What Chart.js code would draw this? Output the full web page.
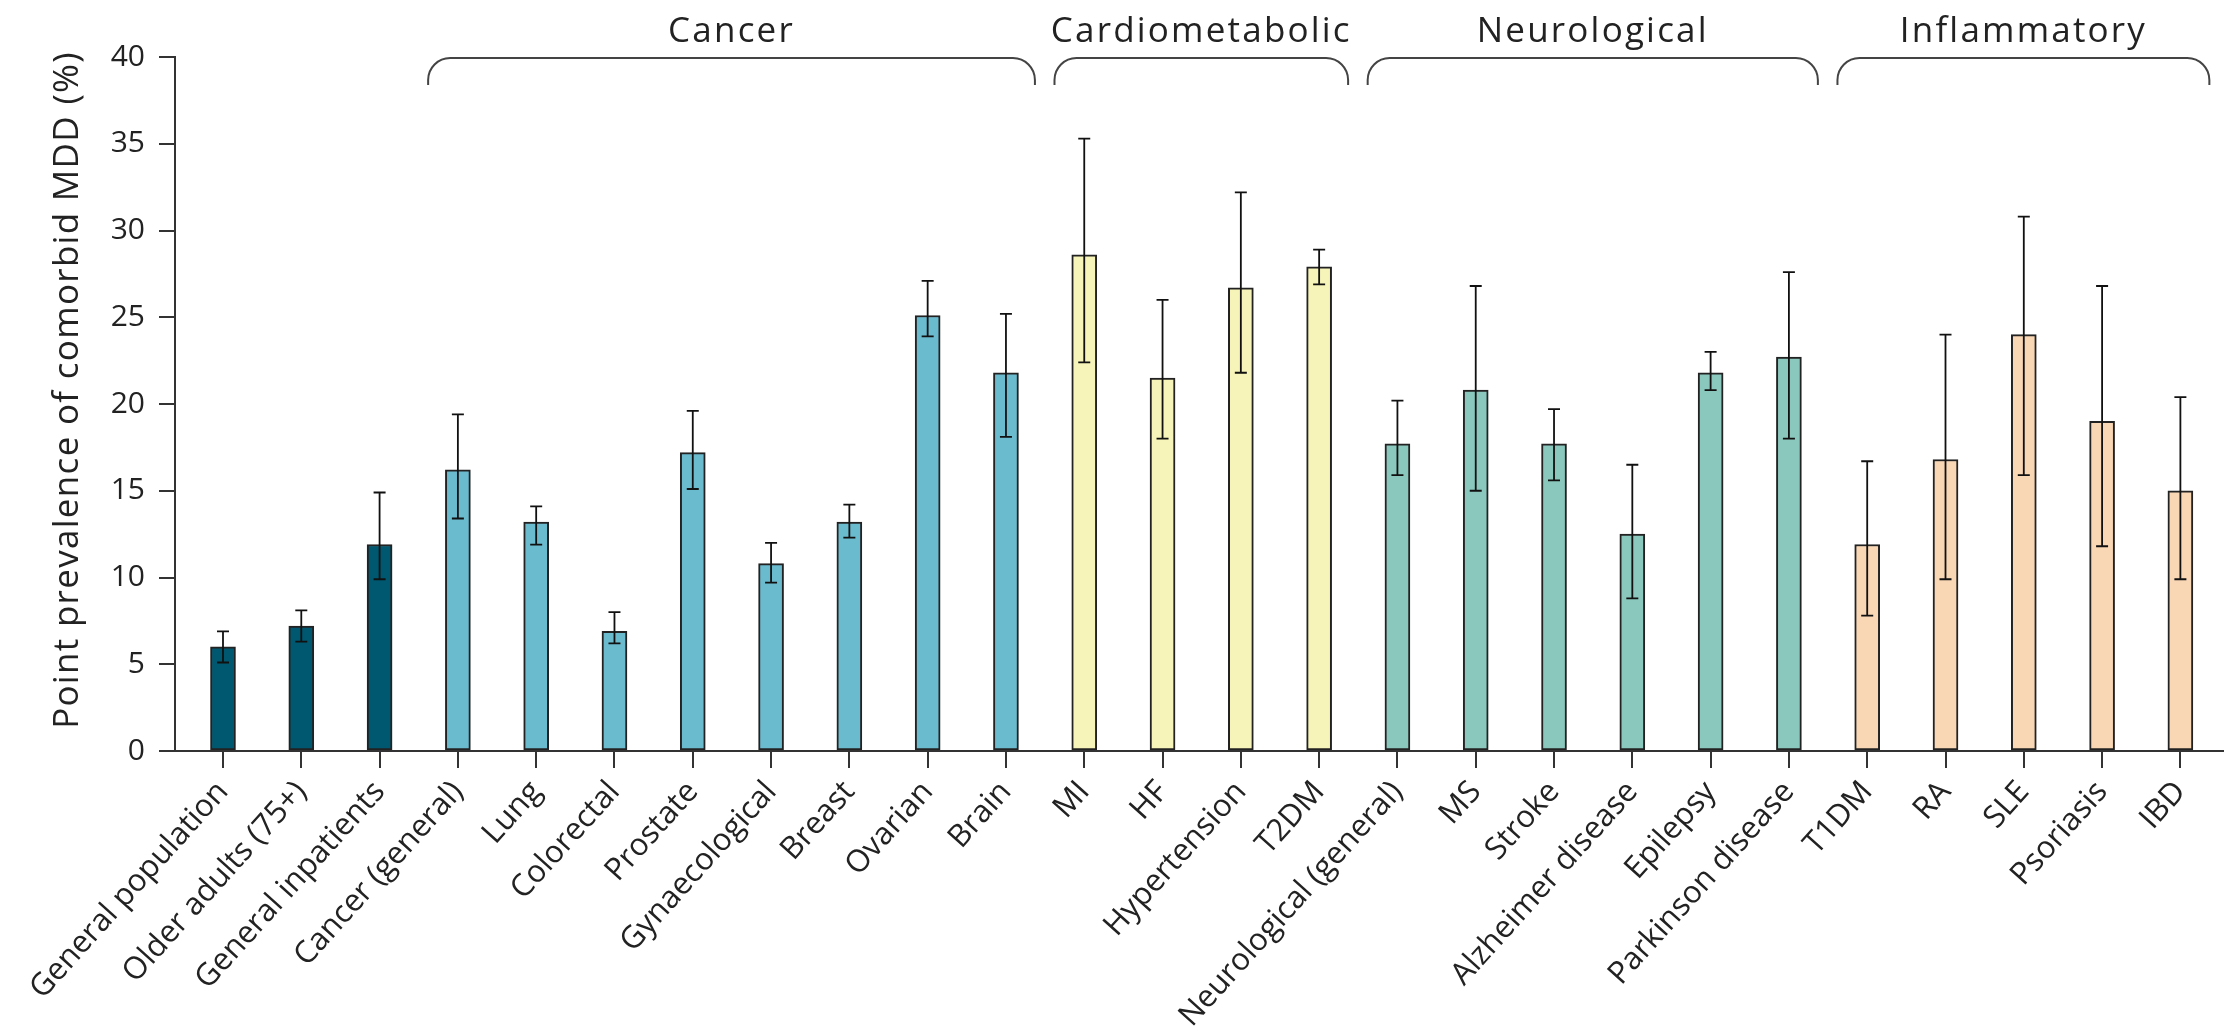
<!DOCTYPE html>
<html>
<head>
<meta charset="utf-8">
<title>Comorbid MDD prevalence</title>
<script src="https://cdn.jsdelivr.net/npm/chart.js@4.4.1/dist/chart.umd.min.js"></script>
<style>
body { margin: 0; background: #fff; }
canvas { display: block; }
</style>
</head>
<body>
<canvas id="barcanvas" width="2224" height="1035"></canvas>
<script>
var categories = [
    'General population', 'Older adults (75+)', 'General inpatients',
    'Cancer (general)', 'Lung', 'Colorectal', 'Prostate', 'Gynaecological', 'Breast', 'Ovarian', 'Brain',
    'MI', 'HF', 'Hypertension', 'T2DM',
    'Neurological (general)', 'MS', 'Stroke', 'Alzheimer disease', 'Epilepsy', 'Parkinson disease',
    'T1DM', 'RA', 'SLE', 'Psoriasis', 'IBD'
];
var prevalence = [6.0, 7.2, 11.9, 16.2, 13.2, 6.9, 17.2, 10.8, 13.2, 25.1, 21.8, 28.6, 21.5, 26.7, 27.9, 17.7, 20.8, 17.7, 12.5, 21.8, 22.7, 11.9, 16.8, 24.0, 19.0, 15.0];
var errLow = [5.1, 6.3, 9.9, 13.4, 11.9, 6.2, 15.1, 9.7, 12.3, 23.9, 18.1, 22.4, 18.0, 21.8, 26.9, 15.9, 15.0, 15.6, 8.8, 20.8, 18.0, 7.8, 9.9, 15.9, 11.8, 9.9];
var errHigh = [6.9, 8.1, 14.9, 19.4, 14.1, 8.0, 19.6, 12.0, 14.2, 27.1, 25.2, 35.3, 26.0, 32.2, 28.9, 20.2, 26.8, 19.7, 16.5, 23.0, 27.6, 16.7, 24.0, 30.8, 26.8, 20.4];
var yTicks = [0, 5, 10, 15, 20, 25, 30, 35, 40];
var yTitle = 'Point prevalence of comorbid MDD (%)';

// group name, first and last category index
var groupNames = ['Cancer', 'Cardiometabolic', 'Neurological', 'Inflammatory'];
var groupFirst = [3, 11, 15, 21];
var groupLast = [10, 14, 20, 25];
var groupColours = ['#6bbbcf', '#f6f4b8', '#8ac8bd', '#f9d7b5'];
var baseColour = '#005870';

var barColours = categories.map((c, i) => {
    for (var g = 0; g < groupFirst.length; g++) {
        if (i >= groupFirst[g] && i <= groupLast[g]) return groupColours[g];
    }
    return baseColour;
});

var inkColour = '#222';

var errorBarPlugin = {
    id: 'errorBars',
    afterDatasetsDraw(chart) {
        var ctx = chart.ctx;
        var y = chart.scales.y;
        var meta = chart.getDatasetMeta(0);
        ctx.save();
        ctx.strokeStyle = '#111';
        ctx.lineWidth = 1.8;
        meta.data.forEach((bar, i) => {
            var top = y.getPixelForValue(errHigh[i]);
            var bot = y.getPixelForValue(errLow[i]);
            ctx.beginPath();
            ctx.moveTo(bar.x, top);
            ctx.lineTo(bar.x, bot);
            ctx.moveTo(bar.x - 6, top);
            ctx.lineTo(bar.x + 6, top);
            ctx.moveTo(bar.x - 6, bot);
            ctx.lineTo(bar.x + 6, bot);
            ctx.stroke();
        });
        ctx.restore();
    }
};

var bracketPlugin = {
    id: 'groupBrackets',
    afterDraw(chart) {
        var ctx = chart.ctx;
        var x = chart.scales.x;
        var area = chart.chartArea;
        var step = x.getPixelForValue(1) - x.getPixelForValue(0);
        var top = area.top + 1;
        var r = 22;
        ctx.save();
        // baseline, running past the y axis like the original
        ctx.strokeStyle = '#333';
        ctx.lineWidth = 2;
        ctx.beginPath();
        ctx.moveTo(area.left - 16, area.bottom);
        ctx.lineTo(area.right, area.bottom);
        ctx.stroke();

        ctx.strokeStyle = '#444';
        ctx.fillStyle = inkColour;
        ctx.font = "35px 'Open Sans', sans-serif";
        ctx.letterSpacing = '2.2px';
        ctx.textAlign = 'center';
        ctx.textBaseline = 'middle';
        for (var g = 0; g < groupNames.length; g++) {
            var x0 = x.getPixelForValue(groupFirst[g]) - 0.38 * step;
            var x1 = x.getPixelForValue(groupLast[g]) + 0.37 * step;
            ctx.beginPath();
            ctx.moveTo(x0, top + 27);
            ctx.arcTo(x0, top, x0 + r, top, r);
            ctx.lineTo(x1 - r, top);
            ctx.arcTo(x1, top, x1, top + r, r);
            ctx.lineTo(x1, top + 27);
            ctx.stroke();
            ctx.fillText(groupNames[g], (x0 + x1) / 2, top - 26);
        }

        // y axis title
        ctx.font = "35px 'Open Sans', sans-serif";
        ctx.letterSpacing = '1.3px';
        ctx.translate(68, 390);
        ctx.rotate(-Math.PI / 2);
        ctx.fillText(yTitle, 0, 0);
        ctx.restore();
    }
};

Chart.defaults.font.family = "'Open Sans', sans-serif";
Chart.defaults.color = inkColour;

var ctx = document.getElementById('barcanvas').getContext('2d');
var myBar = new Chart(ctx, {
    type: 'bar',
    data: {
        labels: categories,
        datasets: [{
            label: yTitle,
            data: prevalence,
            backgroundColor: barColours,
            borderColor: '#222',
            borderWidth: 2,
            borderSkipped: false,
            barThickness: 25
        }]
    },
    options: {
        responsive: false,
        animation: false,
        layout: {
            autoPadding: false,
            padding: { top: 57, left: 0, right: 0, bottom: 0 }
        },
        plugins: {
            legend: { display: false },
            tooltip: { enabled: false }
        },
        scales: {
            x: {
                afterBuildTicks: (scale) => {
                    scale._startValue = -0.613;
                    scale._valueRange = 26.17;
                },
                afterFit: (scale) => {
                    scale.height = 284;
                },
                grid: {
                    offset: false,
                    drawOnChartArea: false,
                    drawTicks: true,
                    tickLength: 17,
                    color: '#333',
                    lineWidth: 2
                },
                border: { display: false },
                ticks: {
                    autoSkip: false,
                    minRotation: 48,
                    maxRotation: 48,
                    padding: 6,
                    font: { size: 31 }
                }
            },
            y: {
                min: 0,
                max: 40,
                afterBuildTicks: (scale) => {
                    scale.ticks = yTicks.map(v => ({ value: v }));
                },
                afterFit: (scale) => {
                    scale.width = 175;
                },
                grid: {
                    drawOnChartArea: false,
                    drawTicks: true,
                    tickLength: 16,
                    color: '#333',
                    lineWidth: 2
                },
                border: { display: true, color: '#333', width: 2 },
                ticks: {
                    padding: 14,
                    font: { size: 30 }
                }
            }
        }
    },
    plugins: [errorBarPlugin, bracketPlugin]
});
</script>
</body>
</html>
